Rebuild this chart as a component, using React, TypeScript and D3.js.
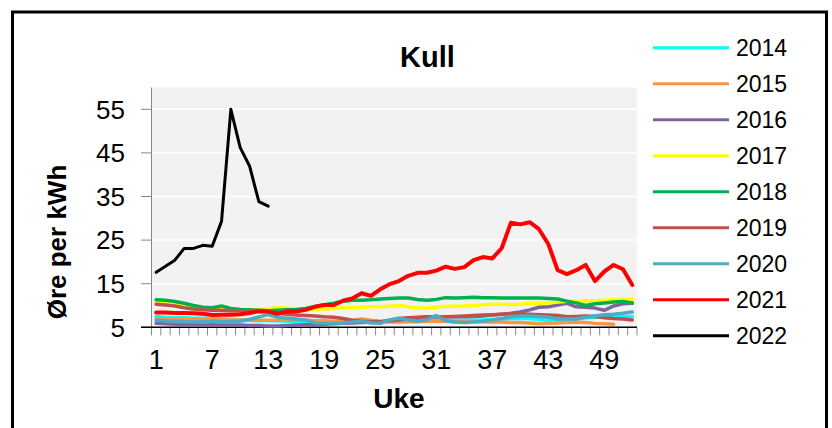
import React from "react";
import * as d3 from "d3";

// Weekly coal price, øre per kWh, one series per year
const weeks: number[] = Array.from({ length: 52 }, (_, i) => i + 1);
const years: string[] = ["2014", "2015", "2016", "2017", "2018", "2019", "2020", "2021", "2022"];
const colors: string[] = ["#00FFFF", "#F79646", "#8064A2", "#FFFF00", "#00B050", "#C0504D", "#4BACC6", "#FF0000", "#000000"];

const v2014: number[] = [7.5, 7.3, 7.2, 7.2, 7.1, 7.1, 7.0, 6.9, 6.8, 6.7, 6.6, 6.5, 6.5, 6.5, 6.4, 6.4, 6.3, 6.1, 6.0, 6.0, 6.0, 6.1, 6.2, 6.2, 6.3, 6.3, 6.2, 6.4, 6.5, 6.5, 6.6, 6.5, 6.6, 6.6, 6.6, 6.7, 6.8, 6.9, 7.0, 7.1, 7.0, 6.8, 6.6, 6.7, 6.9, 7.0, 7.2, 7.3, 7.3, 7.4, 7.4, 7.5];
const v2015: number[] = [6.9, 6.9, 6.8, 6.8, 6.8, 6.8, 6.9, 6.8, 6.7, 6.7, 6.7, 6.6, 6.6, 6.6, 6.6, 6.7, 6.6, 6.5, 6.5, 6.4, 6.4, 6.6, 6.9, 6.6, 6.4, 6.3, 6.3, 6.3, 6.3, 6.4, 6.4, 6.4, 6.3, 6.3, 6.3, 6.3, 6.2, 6.2, 6.1, 6.1, 6.0, 5.8, 5.9, 6.0, 6.1, 6.2, 6.1, 5.9, 5.8, 5.7];
const v2016: number[] = [5.9, 5.8, 5.7, 5.6, 5.6, 5.5, 5.6, 5.5, 5.5, 5.5, 5.4, 5.4, 5.3, 5.3, 5.4, 5.5, 5.6, 5.6, 5.7, 5.8, 5.9, 6.0, 6.1, 6.2, 6.3, 6.5, 6.7, 6.9, 7.1, 7.4, 7.4, 7.4, 7.4, 7.4, 7.5, 7.6, 7.8, 8.0, 8.2, 8.5, 9.0, 9.6, 9.7, 10.1, 10.5, 9.7, 9.6, 9.4, 8.9, 9.9, 10.4, 10.5];
const v2017: number[] = [10.6, 10.5, 10.2, 9.8, 9.5, 9.3, 9.2, 9.2, 9.1, 9.1, 9.0, 9.1, 9.2, 9.5, 9.4, 9.2, 9.1, 9.1, 9.2, 9.3, 9.5, 9.5, 9.6, 9.7, 9.7, 9.8, 10.0, 9.7, 9.4, 9.4, 9.6, 9.8, 9.8, 9.9, 10.0, 10.2, 10.3, 10.3, 10.2, 10.3, 10.5, 10.5, 10.6, 10.8, 11.0, 11.0, 11.1, 11.1, 11.2, 11.3, 11.4, 11.4];
const v2018: number[] = [11.3, 11.2, 10.9, 10.5, 10.0, 9.6, 9.5, 9.9, 9.3, 9.1, 9.0, 8.9, 8.8, 8.9, 9.0, 9.1, 9.3, 9.8, 10.2, 10.5, 11.0, 11.2, 11.2, 11.3, 11.5, 11.6, 11.7, 11.7, 11.4, 11.2, 11.4, 11.8, 11.7, 11.8, 11.9, 11.8, 11.8, 11.7, 11.7, 11.7, 11.7, 11.7, 11.6, 11.5, 11.0, 10.6, 10.0, 10.4, 10.6, 10.8, 10.9, 10.6];
const v2019: number[] = [10.3, 10.1, 9.9, 9.5, 9.2, 9.0, 8.9, 8.9, 8.8, 8.8, 8.8, 8.7, 8.6, 8.3, 8.0, 7.8, 7.7, 7.6, 7.4, 7.3, 7.0, 6.6, 6.4, 6.3, 6.2, 6.6, 7.0, 7.2, 7.3, 7.4, 7.4, 7.4, 7.5, 7.6, 7.7, 7.8, 7.9, 8.0, 8.1, 8.1, 8.0, 7.9, 7.8, 7.7, 7.4, 7.5, 7.6, 7.5, 7.2, 7.0, 6.9, 6.7];
const v2020: number[] = [6.6, 6.5, 6.4, 6.3, 6.3, 6.3, 6.4, 6.3, 6.3, 6.4, 6.8, 7.4, 7.9, 7.3, 7.1, 6.9, 6.7, 6.0, 5.9, 5.9, 6.0, 6.2, 6.4, 6.0, 5.9, 6.7, 7.1, 6.7, 6.4, 6.7, 7.7, 6.5, 6.2, 6.1, 6.2, 6.4, 6.7, 7.0, 7.4, 7.6, 7.6, 7.5, 7.3, 6.9, 6.9, 6.9, 7.3, 7.6, 7.9, 8.0, 8.2, 8.5];
const v2021: number[] = [8.4, 8.4, 8.3, 8.3, 8.2, 8.1, 7.8, 7.9, 7.9, 8.0, 8.3, 8.7, 8.6, 8.1, 8.6, 8.6, 9.0, 9.7, 10.1, 10.1, 11.1, 11.6, 12.8, 12.2, 13.7, 14.9, 15.6, 16.8, 17.5, 17.5, 18.0, 18.9, 18.4, 18.8, 20.4, 21.1, 20.8, 23.1, 29.0, 28.6, 29.1, 27.5, 24.1, 18.1, 17.2, 18.1, 19.3, 15.6, 17.8, 19.3, 18.3, 14.7];
const v2022: number[] = [17.6, 19.0, 20.4, 23.1, 23.1, 23.8, 23.6, 29.3, 55.0, 46.2, 42.0, 33.8, 32.8];

const series: number[][] = [v2014, v2015, v2016, v2017, v2018, v2019, v2020, v2021, v2022];
const yTicks: number[] = [5, 15, 25, 35, 45, 55];
const xTickLabels: number[] = [1, 7, 13, 19, 25, 31, 37, 43, 49];

const FONT = "'Liberation Sans', Arial, sans-serif";

export default function App() {
  const plot = { left: 151.5, right: 637, top: 87.5, bottom: 327.3 };

  const x = d3
    .scaleBand<number>()
    .domain(weeks)
    .range([plot.left, plot.right])
    .padding(0);
  const xc = (w: number) => (x(w) as number) + x.bandwidth() / 2;

  const y = d3.scaleLinear().domain([5, 60]).range([plot.bottom, plot.top]);

  const line = (vals: number[]) =>
    d3
      .line<number>()
      .x((_, i) => xc(weeks[i]))
      .y((d) => y(d))(vals) as string;

  const boundaries = [...weeks.map((w) => x(w) as number), plot.right];

  const legendX0 = 653;
  const legendX1 = 729;
  const legendY0 = 47.7;
  const legendStep = 36;

  return (
    <svg
      width={832}
      height={428}
      style={{ position: "absolute", left: 0, top: 0, background: "#fff" }}
      fontFamily={FONT}
    >
      {/* outer frame */}
      <rect x={12.5} y={12} width={814} height={440} fill="none" stroke="#000" strokeWidth={3} />

      {/* plot background */}
      <rect
        x={plot.left}
        y={plot.top}
        width={plot.right - plot.left}
        height={plot.bottom - plot.top}
        fill="#F2F2F2"
      />

      {/* horizontal gridlines */}
      {yTicks
        .filter((t) => t > 5)
        .map((t) => (
          <line key={"g" + t} x1={plot.left} x2={plot.right} y1={y(t)} y2={y(t)} stroke="#fff" strokeWidth={1.5} />
        ))}

      {/* y axis */}
      <line x1={plot.left} x2={plot.left} y1={plot.top} y2={plot.bottom} stroke="#868686" strokeWidth={1} />
      {yTicks.map((t) => (
        <g key={"yt" + t}>
          <line x1={141} x2={plot.left} y1={y(t)} y2={y(t)} stroke="#868686" strokeWidth={1} />
          <text x={125} y={y(t)} dy="0.36em" textAnchor="end" fontSize={26} fill="#000">
            {t}
          </text>
        </g>
      ))}

      {/* x axis ticks between weeks */}
      {boundaries.map((bx, i) => (
        <line key={"xt" + i} x1={bx} x2={bx} y1={plot.bottom} y2={plot.bottom + 8} stroke="#868686" strokeWidth={1} />
      ))}
      <line x1={141} x2={plot.right} y1={plot.bottom} y2={plot.bottom} stroke="#000" strokeWidth={1.5} />
      {xTickLabels.map((w) => (
        <text key={"xl" + w} x={xc(w)} y={369} textAnchor="middle" fontSize={27} fill="#000">
          {w}
        </text>
      ))}

      {/* series */}
      {series.map((vals, i) => (
        <path
          key={years[i]}
          d={line(vals)}
          fill="none"
          stroke={colors[i]}
          strokeWidth={years[i] === "2022" ? 3 : years[i] === "2021" ? 4 : 3.5}
          strokeLinejoin="round"
          strokeLinecap="round"
        />
      ))}

      {/* title and axis titles */}
      <text x={427.5} y={67} textAnchor="middle" fontSize={29} fontWeight="bold" fill="#000">
        Kull
      </text>
      <text x={399} y={407.5} textAnchor="middle" fontSize={28} fontWeight="bold" fill="#000">
        Uke
      </text>
      <text
        transform="translate(66,242) rotate(-90)"
        textAnchor="middle"
        fontSize={26}
        fontWeight="bold"
        fill="#000"
      >
        Øre per kWh
      </text>

      {/* legend */}
      {years.map((yr, i) => {
        const ly = legendY0 + i * legendStep;
        return (
          <g key={"lg" + yr}>
            <line x1={legendX0} x2={legendX1} y1={ly} y2={ly} stroke={colors[i]} strokeWidth={3} />
            <text x={736} y={ly} dy="0.36em" fontSize={23} fill="#000">
              {yr}
            </text>
          </g>
        );
      })}
    </svg>
  );
}
